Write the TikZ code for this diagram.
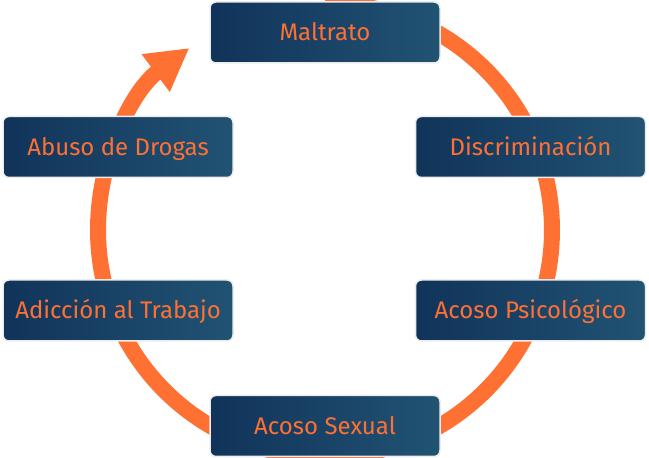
\documentclass[tikz,border=0pt]{standalone}
\usepackage{fontspec}
\setmainfont{Fira Sans}
\usetikzlibrary{arrows.meta}
\definecolor{navyl}{HTML}{11335A}
\definecolor{navyr}{HTML}{215373}
\definecolor{cyclorange}{HTML}{FF7033}
\tikzset{
  stage/.style={rounded corners=6pt, left color=navyl, right color=navyr,
    draw=gray!15, line width=1.5pt, minimum width=230pt, minimum height=61pt,
    text height=16.5pt, text depth=0pt,
    text=cyclorange, font=\fontsize{24}{28}\selectfont},
  cycle arrow/.style={draw=cyclorange, line width=16pt,
    -{Triangle[length=42pt, width=44pt]}}
}
\begin{document}
\begin{tikzpicture}[x=1pt, y=1pt]
        \useasboundingbox (0,0) rectangle (649,458);
        \coordinate (ctr) at (325,228);
        \draw[cycle arrow] ([shift={(90:227)}]ctr) arc[start angle=90, end angle=-233.3, radius=227];

        \node[stage] (maltrato) at (325,425.5) {Maltrato};
        \node[stage] (discrim) at (530.5,311) {Discriminación};
        \node[stage] (psico) at (530.5,147.5) {Acoso Psicológico};
        \node[stage] (sexual) at (325,32) {Acoso Sexual};
        \node[stage] (trabajo) at (118,147.5) {Adicción al Trabajo};
        \node[stage] (drogas) at (118,311) {Abuso de Drogas};
      \end{tikzpicture}
\end{document}
